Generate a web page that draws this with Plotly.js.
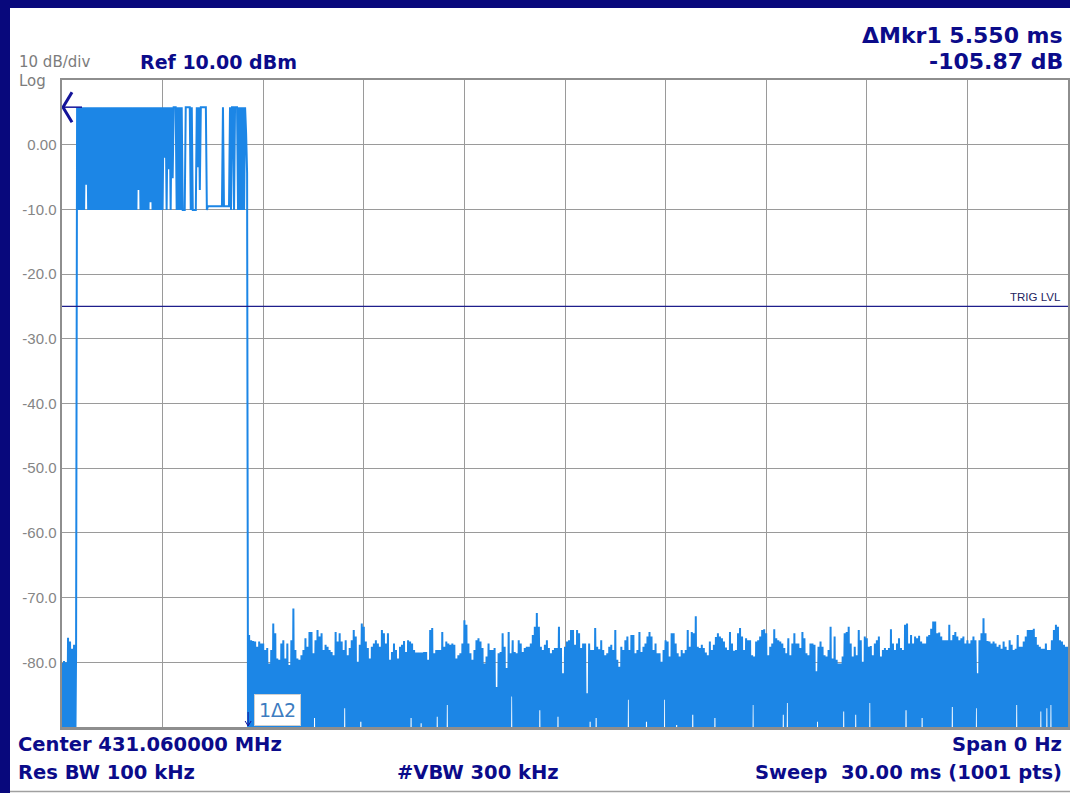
<!DOCTYPE html>
<html>
<head>
<meta charset="utf-8">
<script src="https://cdn.plot.ly/plotly-3.0.1.min.js"></script>
<style>
  html, body { margin: 0; padding: 0; background: #ffffff; }
  #chart { width: 1070px; height: 793px; }
</style>
</head>
<body>
<div id="chart"></div>
<script>
// Zero-span sweep settings
const sweepMs = 30;
const sweepPoints = 1001;
const refLevelDbm = 10;
const dbPerDiv = 10;
const trigLevelDbm = -25;

// Delta marker readout
const marker1Ms = 0;
const marker1Dbm = 5.8;
const deltaMs = 5.55;
const deltaDb = -105.87;

// Axis labels and grid
const yTickVals = [0, -10, -20, -30, -40, -50, -60, -70, -80];
const yTickText = ['0.00', '-10.0', '-20.0', '-30.0', '-40.0', '-50.0', '-60.0', '-70.0', '-80.0'];
const timeGridMs = [3, 6, 9, 12, 15, 18, 21, 24, 27];

// Samples 0-14: noise before the burst
const leadDbm = [-80.1, -97, -79.8, -96, -80.0, -98, -76.2, -95, -76.8, -97, -77.9, -96, -77.3, -98, -78.6];

// Samples 15-184: the burst
const burstDbm = [
  5.8, -10.1, 5.8, -10.1, 5.8, -10.1, 5.8, -10.1, 5.8, -6.2,
  5.8, -10.1, 5.8, -10.1, 5.8, -10.1, 5.8, -10.1, 5.8, -10.1,
  5.8, -10.1, 5.8, -10.1, 5.8, -10.1, 5.8, -10.1, 5.8, -10.1,
  5.8, -10.1, 5.8, -10.1, 5.8, -10.1, 5.8, -10.1, 5.8, -10.1,
  5.8, -10.1, 5.8, -10.1, 5.8, -10.1, 5.8, -10.1, 5.8, -10.1,
  5.8, -10.1, 5.8, -10.1, 5.8, -10.1, 5.8, -10.1, 5.8, -10.1,
  5.8, -7.0, 5.8, -10.1, 5.8, -10.1, 5.8, -10.1, 5.8, -10.1,
  5.8, -10.1, 5.8, -8.9, 5.8, -10.1, 5.8, -10.1, 5.8, -10.1,
  5.8, -10.1, 5.8, -10.1, 5.8, -10.1,
  5.8, -2.0, 5.8, -10.1, 5.8, -3.8, 5.8, -10.1, 5.8, -5.2,
  5.8, 5.8, 5.8, -10.1, 5.8, -10.1, 5.8, -10.1, 5.8, -10.1,
  -10.1, -10.1, 5.8, 5.8, 5.8, 5.8, 5.8, -10.1, 5.8, -10.1,
  -10.1, -10.1, -10.1, 5.8, -3.5, 5.8, -7.0, 5.8, 5.8, 5.8,
  5.8, 5.8, 5.8, -10.1, -9.5, -9.5, -9.5, -9.5, -9.5, -9.5,
  -9.5, -9.5, -9.5, -9.5, -9.5, -9.5, -9.5, -9.5, -9.5, 5.8,
  -9.5, -9.5, -9.5, -9.5, -9.5, -9.5, 5.8, -10.1, 5.8, 5.8,
  -10.1, 5.8, 5.8, 5.8, -10.1, 5.8, -10.1, 5.8, -10.1, 5.8,
  -10.1, 5.8, 1.8, -4.4
];

// Samples 186, 188, ... 1000: noise-floor peaks after the burst
const floorPeakDbm = [
  // 5.58 - 10.50 ms
  -75.8, -76.6, -76.7, -76.8, -77.6, -76.8, -77.1, -77.1, -78.1, -77.8,
  -80.2, -78.1, -74.0, -75.5, -79.4, -79.6, -77.1, -76.6, -79.4, -77.1,
  -80.4, -76.6, -71.7, -78.1, -79.4, -79.6, -78.9, -78.1, -76.3, -77.6,
  -75.3, -75.3, -78.6, -76.6, -75.0, -76.0, -75.5, -78.1, -77.3, -77.6,
  -78.1, -78.4, -78.9, -75.3, -76.8, -75.5, -76.8, -78.1, -76.6, -78.9,
  -77.8, -76.6, -75.0, -76.0, -79.9, -77.3, -74.0, -74.5, -76.8, -77.8,
  -79.4, -77.6, -77.1, -76.6, -77.1, -77.6, -75.0, -75.5, -77.1, -75.5,
  -79.6, -78.4, -77.1, -78.1, -79.4, -77.6, -77.3, -76.7, -78.4, -76.6,
  -76.8, -77.1, -78.1,
  // 10.56 - 15.60 ms
  -78.5, -78.5, -78.5, -78.5, -78.4, -78.4, -79.6, -75.0, -74.7, -78.6,
  -78.1, -78.1, -78.1, -75.3, -77.6, -76.8, -77.1, -77.3, -77.1, -77.3,
  -79.4, -78.9, -78.6, -77.1, -73.5, -74.2, -77.1, -78.6, -79.6, -78.1,
  -76.6, -76.3, -76.8, -77.8, -80.2, -79.1, -77.1, -78.1, -78.1, -77.8,
  -83.8, -78.6, -78.4, -75.5, -77.6, -80.9, -75.3, -78.6, -76.6, -78.4,
  -78.6, -76.6, -77.1, -78.4, -77.8, -77.6, -77.6, -77.1, -75.8, -74.5,
  -72.4, -74.5, -77.6, -78.1, -77.3, -76.6, -77.8, -78.6, -78.1, -77.8,
  -77.8, -74.5, -77.8, -81.7, -77.6, -76.8, -76.6, -75.0, -75.0, -77.3,
  -75.0, -75.5, -77.8, -77.1, -77.1,
  // 15.66 - 20.64 ms
  -84.8, -77.1, -78.1, -78.1, -74.7, -77.6, -78.0, -76.6, -78.1, -78.9,
  -78.6, -77.6, -77.3, -78.1, -75.0, -79.6, -80.7, -77.6, -78.1, -76.6,
  -76.0, -78.1, -75.8, -75.8, -78.6, -78.1, -75.3, -78.4, -77.6, -77.1,
  -76.0, -75.3, -76.0, -78.1, -77.1, -78.6, -78.6, -79.9, -78.1, -76.6,
  -76.8, -79.1, -75.5, -75.5, -77.1, -78.6, -79.1, -78.1, -78.6, -78.1,
  -75.0, -77.6, -75.3, -75.5, -72.9, -77.6, -77.8, -77.3, -77.8, -78.5,
  -78.9, -76.8, -78.1, -77.3, -76.1, -75.5, -76.0, -76.3, -76.8, -77.7,
  -78.1, -75.3, -77.1, -78.2, -78.1, -75.5, -74.7, -76.0, -78.1, -76.3,
  -76.6, -76.6, -78.9, -79.1,
  // 20.70 - 25.74 ms
  -76.8, -76.6, -76.0, -75.0, -74.9, -75.5, -78.9, -77.6, -77.1, -74.9,
  -76.3, -76.6, -76.8, -77.1, -77.8, -78.6, -76.3, -78.9, -77.1, -75.5,
  -77.1, -77.1, -77.8, -75.3, -76.3, -78.6, -78.9, -77.1, -77.1, -77.3,
  -81.4, -77.6, -76.8, -77.6, -78.9, -79.1, -78.1, -74.5, -79.4, -76.0,
  -79.6, -80.2, -80.2, -79.1, -75.5, -75.3, -74.5, -77.1, -79.1, -77.6,
  -78.9, -75.0, -76.6, -79.9, -76.0, -76.3, -77.6, -77.5, -78.9, -77.1,
  -76.6, -76.0, -79.1, -78.1, -77.8, -78.1, -77.8, -74.9, -77.1, -78.1,
  -77.1, -76.3, -77.8, -78.1, -74.2, -74.0, -77.1, -75.8, -77.1, -76.0,
  -76.3, -75.9, -76.8, -77.1, -77.1,
  // 25.80 - 30.00 ms
  -76.0, -75.8, -74.8, -73.7, -73.7, -75.5, -75.4, -76.0, -76.6, -76.6,
  -76.6, -74.2, -76.6, -75.8, -75.3, -76.0, -76.6, -76.3, -76.0, -77.1,
  -76.6, -77.1, -76.6, -76.0, -76.6, -81.7, -76.6, -75.5, -73.2, -75.5,
  -76.7, -76.8, -77.1, -76.8, -77.1, -77.6, -77.3, -77.9, -76.8, -77.6,
  -78.1, -76.6, -77.3, -78.1, -77.9, -75.8, -77.6, -77.6, -76.8, -76.0,
  -75.0, -75.0, -75.0, -74.8, -76.1, -77.3, -77.6, -77.9, -77.9, -77.1,
  -78.1, -78.1, -76.6, -75.0, -74.2, -74.5, -76.6, -76.8, -77.3, -77.6,
  -77.6
];

// Odd samples after the burst dip below the bottom graticule,
// except these ones that stay on screen
const floorDipIndex = [251, 281, 297, 347, 357, 373, 383, 447, 475, 493,
  525, 531, 563, 581, 599, 611, 627, 649, 687, 717, 721, 751, 777, 789, 803,
  839, 855, 885, 909, 949, 973, 979, 983];
const floorDipDbm = [-88.6, -87.1, -89.2, -88.6, -89.4, -88.4, -86.6, -85.3, -87.4, -88.4,
  -89.2, -88.6, -85.8, -89.2, -85.8, -89.7, -88.1, -88.6, -86.6, -88.1, -86.3, -89.2, -87.6, -88.1, -86.3,
  -87.4, -88.6, -86.9, -87.1, -86.6, -87.6, -87.1, -86.6];
const offScreenDbm = -100;

// Assemble the 1001-point trace
const traceDbm = leadDbm.concat(burstDbm);
for (let i = leadDbm.length + burstDbm.length; i < sweepPoints; i++) {
  if (i % 2 === 0) {
    traceDbm.push(floorPeakDbm[(i - 186) / 2]);
  } else {
    const k = floorDipIndex.indexOf(i);
    traceDbm.push(k >= 0 ? floorDipDbm[k] : offScreenDbm);
  }
}
const timeMs = traceDbm.map((_, i) => i * sweepMs / (sweepPoints - 1));

// Page geometry (pixels) for placing screen text
const PLOT_L = 62, PLOT_T = 80, PLOT_W = 1006, PLOT_H = 647;
const fx = p => (p - PLOT_L) / PLOT_W;
const fy = p => (PLOT_T + PLOT_H - p) / PLOT_H;

const NAVY = '#0b0b8a';
const TRACE_BLUE = '#1c86e6';
const boldFont = size => ({ family: 'DejaVu Sans, Verdana, sans-serif', size: size, color: NAVY, weight: 'bold' });
const grayFont = size => ({ family: 'DejaVu Sans, sans-serif', size: size, color: '#7c7c7c' });

function label(text, xPx, yPx, anchor, font) {
  return { text: text, xref: 'paper', yref: 'paper', x: fx(xPx), y: fy(yPx),
           xanchor: anchor, yanchor: 'middle', showarrow: false, font: font };
}

const annotations = [
  label('10 dB/div', 17, 62, 'left', grayFont(15)),
  label('Log', 17, 80.5, 'left', grayFont(15)),
  label('Ref ' + refLevelDbm.toFixed(2) + ' dBm', 138, 62.5, 'left', boldFont(19)),
  label('\u0394Mkr1 ' + deltaMs.toFixed(3) + ' ms', 1065, 35.5, 'right', boldFont(22)),
  label(deltaDb.toFixed(2) + ' dB', 1065, 61, 'right', boldFont(22)),
  label('Center 431.060000 MHz', 16, 744.5, 'left', boldFont(19.5)),
  label('Res BW 100 kHz', 16, 772.5, 'left', boldFont(19.5)),
  label('#VBW 300 kHz', 478, 772.5, 'center', boldFont(19.5)),
  label('Span 0 Hz', 1064, 744.5, 'right', boldFont(19.5)),
  label('Sweep\u00a0\u00a0' + sweepMs.toFixed(2) + ' ms (' + sweepPoints + ' pts)', 1064, 772.5, 'right', boldFont(19.5)),
  { text: 'TRIG LVL', xref: 'paper', yref: 'y', x: 1, y: trigLevelDbm, xanchor: 'right', yanchor: 'bottom',
    xshift: -5, yshift: 1, showarrow: false,
    font: { family: 'Liberation Sans, Arial, sans-serif', size: 11.5, color: '#23235f' } },
  { text: '1\u03942', xref: 'x', yref: 'y', x: marker1Ms + deltaMs, y: refLevelDbm - 10 * dbPerDiv,
    xanchor: 'left', yanchor: 'bottom', xshift: 6, yshift: 1, showarrow: false,
    bgcolor: '#ffffff', bordercolor: '#cfcfcf', borderwidth: 1, borderpad: 4,
    font: { family: 'DejaVu Sans, sans-serif', size: 19, color: '#3d7cc0' } }
];

const shapes = [
  // instrument frame
  { type: 'rect', xref: 'paper', yref: 'paper', x0: fx(0), x1: fx(1070), y0: fy(0), y1: fy(8),
    fillcolor: '#08087c', line: { width: 0 }, layer: 'above' },
  { type: 'rect', xref: 'paper', yref: 'paper', x0: fx(0), x1: fx(10), y0: fy(0), y1: fy(793),
    fillcolor: '#08087c', line: { width: 0 }, layer: 'above' },
  { type: 'line', xref: 'paper', yref: 'paper', x0: fx(10), x1: fx(1070), y0: fy(791.5), y1: fy(791.5),
    line: { color: '#a0a0a0', width: 1.5 } },
  // trigger level
  { type: 'line', xref: 'paper', yref: 'y', x0: 0, x1: 1, y0: trigLevelDbm, y1: trigLevelDbm,
    line: { color: '#1e1e8c', width: 1.2 } },
  // marker 1 off-screen indicator
  { type: 'path', xref: 'x', yref: 'y', xsizemode: 'pixel', ysizemode: 'pixel',
    xanchor: marker1Ms, yanchor: marker1Dbm,
    path: 'M 10 15 L 1 0 L 10 -15', line: { color: '#14149a', width: 3 } },
  { type: 'path', xref: 'x', yref: 'y', xsizemode: 'pixel', ysizemode: 'pixel',
    xanchor: marker1Ms, yanchor: marker1Dbm,
    path: 'M 1 0 L 20 0', line: { color: '#14149a', width: 1.5 } },
  // marker 2 arrow
  { type: 'path', xref: 'x', yref: 'y', xsizemode: 'pixel', ysizemode: 'pixel',
    xanchor: marker1Ms + deltaMs, yanchor: refLevelDbm - 10 * dbPerDiv,
    path: 'M 0 15 L 0 1 M -3 6 L 0 1 L 3 6', line: { color: '#14149a', width: 1 } }
];

const data = [{
  type: 'scatter', mode: 'lines', x: timeMs, y: traceDbm,
  line: { color: TRACE_BLUE, width: 2, simplify: false },
  hoverinfo: 'skip', showlegend: false
}];

const layout = {
  width: 1070, height: 793,
  margin: { l: PLOT_L, r: 1070 - PLOT_L - PLOT_W, t: PLOT_T, b: 793 - PLOT_T - PLOT_H, pad: 0 },
  paper_bgcolor: '#ffffff', plot_bgcolor: '#ffffff',
  showlegend: false,
  xaxis: {
    range: [0, sweepMs], tickvals: timeGridMs, showticklabels: false, ticks: '',
    showgrid: true, gridcolor: '#9a9a9a', gridwidth: 1, zeroline: false,
    showline: true, mirror: true, linecolor: '#8e8e8e', linewidth: 2.5
  },
  yaxis: {
    range: [refLevelDbm - 10 * dbPerDiv, refLevelDbm], tickvals: yTickVals, ticktext: yTickText, ticks: '',
    showgrid: true, gridcolor: '#9a9a9a', gridwidth: 1, zeroline: false,
    showline: true, mirror: true, linecolor: '#8e8e8e', linewidth: 2.5,
    tickfont: { family: 'Liberation Sans, Arial, sans-serif', size: 15, color: '#858585' }
  },
  annotations: annotations,
  shapes: shapes
};

Plotly.newPlot('chart', data, layout, { staticPlot: true, displayModeBar: false });
</script>
</body>
</html>
